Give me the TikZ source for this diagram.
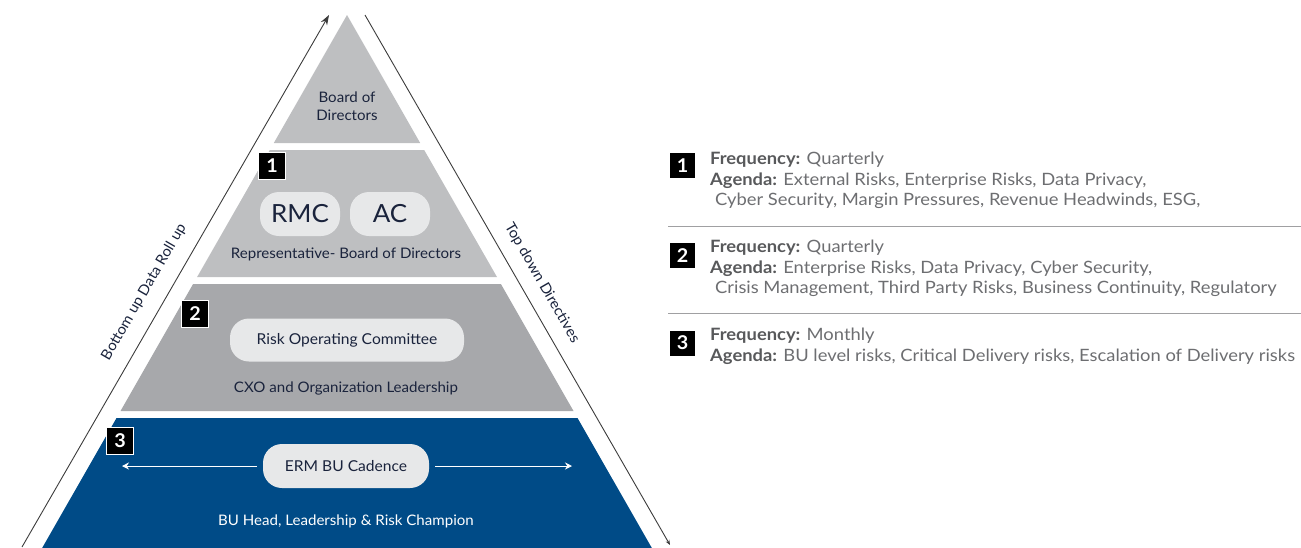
\documentclass[tikz,border=0pt]{standalone}
\usepackage{fontspec}
\setmainfont{Lato}[FakeStretch=1.04]
\newfontfamily\legfont{Lato}[FakeStretch=1.08]
\usepackage{tikz}
\usetikzlibrary{arrows.meta,positioning,calc}
\definecolor{ermBlue}  {RGB}{0,   75, 135}
\definecolor{ermGrayA} {RGB}{190,191,193}
\definecolor{ermGrayB} {RGB}{167,168,171}
\definecolor{ermPill}  {RGB}{231,232,233}
\definecolor{ermInk}   {RGB}{26,  35,  60}
\definecolor{ermText}  {RGB}{109,110,113}
\definecolor{ermBold}  {RGB}{88,  89,  91}
\definecolor{ermLine}  {RGB}{60,  60,  60}
\definecolor{ermRule}  {RGB}{160,160,162}

\begin{document}
\begin{tikzpicture}[x=1pt,y=-1pt,
    numbox/.style={fill=black,draw=white,line width=0.8pt,text=white,
      font=\bfseries\fontsize{19}{19}\selectfont,minimum size=27pt,inner sep=0pt},
    legbox/.style={numbox,draw=none,minimum size=25pt},
    pill/.style={fill=ermPill,rounded corners=19pt,text=ermInk,
      minimum height=44pt,inner sep=0pt,outer sep=6pt},
    lbl/.style={text=ermInk,font=\fontsize{14.5}{18}\selectfont},
    legend/.style={anchor=north west,align=left,inner sep=0pt,text=ermText,
      font=\legfont\fontsize{17}{20.5}\selectfont}]
        \useasboundingbox (0,0) rectangle (1301,547);
        % Piramide
        \fill[ermGrayA] (347,15)--(273.8,143)--(420.2,143)--cycle;
        \fill[ermGrayA] (269.8,150)--(424.2,150)--(497.0,277)--(197.1,277)--cycle;
        \fill[ermGrayB] (193.1,284)--(500.9,284)--(573.5,411)--(120.5,411)--cycle;
        \fill[ermBlue]  (116.5,418)--(577.5,418)--(653.0,550)--(41.0,550)--cycle;
        % Setas laterais
        \coordinate (upS) at (22,547);
        \coordinate (upE) at (329,15);
        \coordinate (dnS) at (365,15);
        \coordinate (dnE) at (670,545);
        \draw[ermLine,line width=0.9pt,-{Stealth[length=10pt,width=7pt]}] (upS)--(upE);
        \draw[ermLine,line width=0.9pt,-{Stealth[length=5pt,width=4pt]}] (dnS)--(dnE);
        \node[lbl,rotate=60] (upTxt) at (144,292) {Bottom up Data Roll up};
        \node[lbl,rotate=-60] (dnTxt) at (542,283) {Top down Directives};
        % Board
        \node[lbl,align=center] (board) at (347,106) {Board of\\Directors};
        % Nivel 1
        \node[numbox] (n1) at (272,166) {1};
        \node[pill,minimum width=80pt,font=\fontsize{25}{25}\selectfont] (rmc) at (300,214) {RMC};
        \node[pill,minimum width=80pt,font=\fontsize{25}{25}\selectfont] (ac) at (390,214) {AC};
        \node[lbl] (rep) at (346,254) {Representative- Board of Directors};
        % Nivel 2
        \node[numbox] (n2) at (195,314) {2};
        \node[pill,minimum width=234pt,minimum height=43pt,font=\fontsize{15}{15}\selectfont] (roc) at (347,340) {Risk Operating Committee};
        \node[lbl] (cxo) at (346,388) {CXO and Organization Leadership};
        % Nivel 3
        \node[numbox] (n3) at (120,441) {3};
        \node[pill,minimum width=166pt,font=\fontsize{15}{15}\selectfont] (erm) at (346,466) {ERM BU Cadence};
        \coordinate (ermL) at (122,466);
        \coordinate (ermR) at (572,466);
        \draw[white,line width=0.9pt,-{Stealth[length=7pt,width=7pt]}] (erm.west)--(ermL);
        \draw[white,line width=0.9pt,-{Stealth[length=7pt,width=7pt]}] (erm.east)--(ermR);
        \node[lbl,text=white] (bu) at (346,521) {BU Head, Leadership \& Risk Champion};
        % Legenda
        \node[legbox] (k1) at (682.5,165.5) {1};
        \node[legend] (t1) at (710,152) {\textcolor{ermBold}{\bfseries Frequency:} Quarterly\\
          \textcolor{ermBold}{\bfseries Agenda:} External Risks, Enterprise Risks, Data Privacy,\\
          \hspace*{5pt}Cyber Security, Margin Pressures, Revenue Headwinds, ESG,};
        \draw[ermRule,line width=0.8pt] (668,226)--(1301,226);
        \node[legbox] (k2) at (682.5,255.5) {2};
        \node[legend] (t2) at (710,240) {\textcolor{ermBold}{\bfseries Frequency:} Quarterly\\
          \textcolor{ermBold}{\bfseries Agenda:} Enterprise Risks, Data Privacy, Cyber Security,\\
          \hspace*{5pt}Crisis Management, Third Party Risks, Business Continuity, Regulatory};
        \draw[ermRule,line width=0.8pt] (668,313)--(1301,313);
        \node[legbox] (k3) at (682.5,343) {3};
        \node[legend] (t3) at (710,328) {\textcolor{ermBold}{\bfseries Frequency:} Monthly\\
          \textcolor{ermBold}{\bfseries Agenda:} BU level risks, Critical Delivery risks, Escalation of Delivery risks};
      \end{tikzpicture}
\end{document}
